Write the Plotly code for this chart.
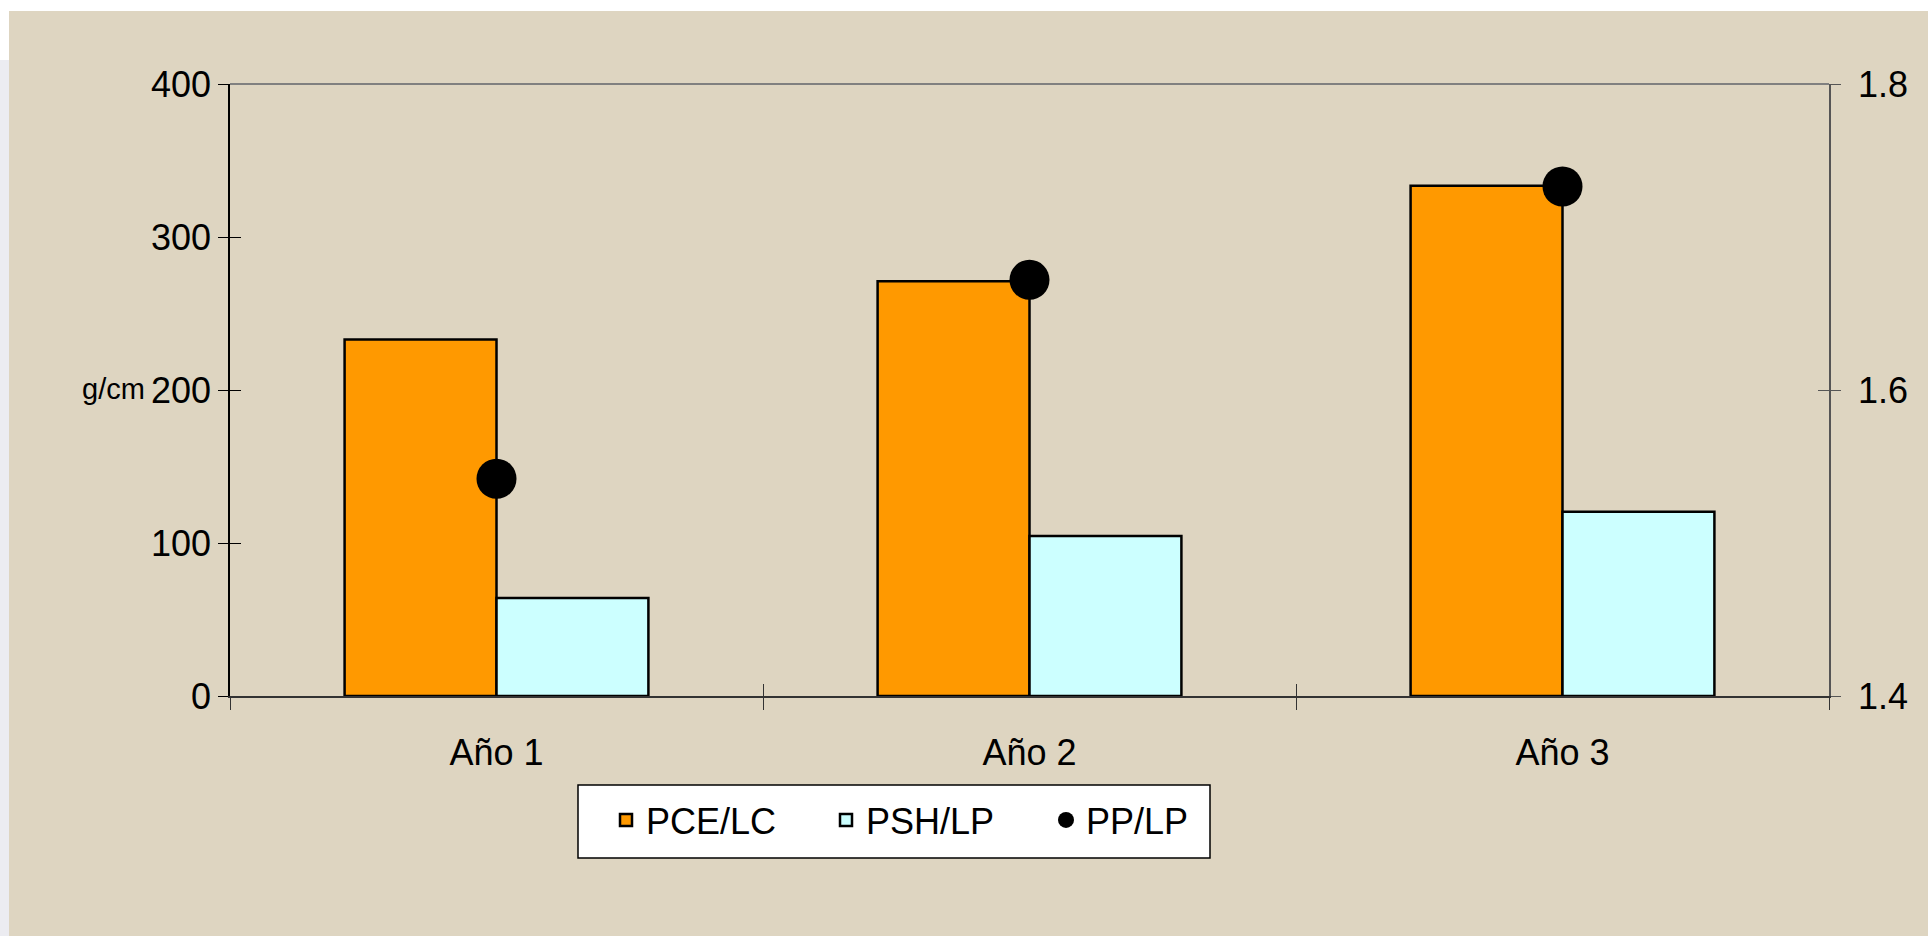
import plotly.graph_objects as go

# Data
categories = ["Año 1", "Año 2", "Año 3"]
pce_lc = [233, 271, 333.5]      # g/cm, left axis
psh_lp = [64, 104.5, 120.5]     # g/cm, left axis
pp_lp = [1.542, 1.672, 1.733]   # right axis

left_ticks = [0, 100, 200, 300, 400]
right_ticks = [1.4, 1.6, 1.8]

FONT = "Liberation Sans, Arial, sans-serif"
W, H = 1928, 936
L, R, T, B = 230, 99, 84, 240
PW, PH = W - L - R, H - T - B


def px_x(px):
    return (px - L) / PW


def px_y(py):
    return (H - B - py) / PH


fig = go.Figure()

fig.add_trace(go.Bar(
    x=categories, y=pce_lc, name="PCE/LC",
    marker=dict(color="#ff9900", line=dict(color="black", width=2.5)),
))
fig.add_trace(go.Bar(
    x=categories, y=psh_lp, name="PSH/LP",
    marker=dict(color="#ccffff", line=dict(color="black", width=2.5)),
))
fig.add_trace(go.Scatter(
    x=categories, y=pp_lp, name="PP/LP", yaxis="y2", mode="markers",
    marker=dict(color="black", size=40, symbol="circle"),
))
# empty traces that carry the inner halves of the cross tick marks
fig.add_trace(go.Scatter(x=[], y=[], xaxis="x2", yaxis="y3", showlegend=False))
fig.add_trace(go.Scatter(x=[], y=[], xaxis="x2", yaxis="y4", showlegend=False))

tick_font = dict(family=FONT, size=36, color="black")

fig.update_layout(
    width=W, height=H,
    margin=dict(l=L, r=R, t=T, b=B, pad=0),
    paper_bgcolor="white",
    plot_bgcolor="rgba(0,0,0,0)",
    barmode="group", bargap=0.43, bargroupgap=0,
    font=dict(family=FONT, color="black"),
    showlegend=True,
    legend=dict(
        orientation="h", x=px_x(606), xanchor="left", y=px_y(820), yanchor="middle",
        bgcolor="rgba(0,0,0,0)", borderwidth=0,
        font=dict(family=FONT, size=36, color="black"),
        entrywidth=175, entrywidthmode="pixels",
        traceorder="normal",
    ),
    xaxis=dict(
        type="category", showgrid=False, zeroline=False,
        showline=True, linecolor="#333333", linewidth=2,
        ticks="outside", tickson="boundaries", ticklen=12, tickwidth=1, tickcolor="#333333",
        tickfont=tick_font, ticklabelstandoff=24,
    ),
    xaxis2=dict(
        overlaying="x", anchor="y", range=[-0.5, 2.5], showgrid=False, zeroline=False,
        showline=False, tickvals=[-0.5, 0.5, 1.5, 2.5], ticks="inside", ticklen=12,
        tickwidth=1, tickcolor="#333333", showticklabels=False,
    ),
    yaxis=dict(
        range=[0, 400], tickvals=left_ticks, showgrid=False, zeroline=False,
        showline=True, linecolor="black", linewidth=1.5,
        ticks="outside", ticklen=10, tickwidth=1, tickcolor="black",
        tickfont=tick_font, ticklabelstandoff=0,
    ),
    yaxis2=dict(
        overlaying="y", side="right", range=[1.4, 1.8], tickvals=right_ticks,
        tickformat=".1f", showgrid=False, zeroline=False,
        showline=True, linecolor="#555555", linewidth=1.5,
        ticks="outside", ticklen=10, tickwidth=1, tickcolor="#555555",
        tickfont=tick_font, ticklabelstandoff=10,
    ),
    yaxis3=dict(
        overlaying="y", anchor="x2", range=[0, 400], tickvals=left_ticks,
        showgrid=False, zeroline=False, showline=False,
        ticks="inside", ticklen=11, tickwidth=1, tickcolor="black", showticklabels=False,
    ),
    yaxis4=dict(
        overlaying="y", anchor="x2", side="right", range=[1.4, 1.8], tickvals=right_ticks,
        showgrid=False, zeroline=False, showline=False,
        ticks="inside", ticklen=11, tickwidth=1, tickcolor="#555555", showticklabels=False,
    ),
)

shapes = [
    # textured backdrop area
    dict(type="rect", xref="paper", yref="paper", layer="below",
         x0=px_x(9), x1=px_x(W + 5), y0=px_y(H + 5), y1=px_y(11),
         fillcolor="#ded5c1", line=dict(width=0)),
    # pale strip on the left edge
    dict(type="rect", xref="paper", yref="paper", layer="below",
         x0=px_x(-5), x1=px_x(9), y0=px_y(H + 5), y1=px_y(60),
         fillcolor="#ececf1", line=dict(width=0)),
    # top border of the plot area
    dict(type="line", xref="paper", yref="paper", layer="above",
         x0=0, x1=1, y0=1, y1=1, line=dict(color="#808080", width=2)),
    # legend box
    dict(type="rect", xref="paper", yref="paper", layer="above",
         x0=px_x(578), x1=px_x(1210), y0=px_y(858), y1=px_y(785),
         fillcolor="white", line=dict(color="black", width=1.5)),
]
fig.update_layout(shapes=shapes)

fig.add_annotation(
    text="g/cm", xref="paper", yref="paper", x=px_x(80), y=px_y(389),
    xanchor="left", yanchor="middle", showarrow=False,
    font=dict(family=FONT, size=29, color="black"),
)

fig.write_html("out.html")
